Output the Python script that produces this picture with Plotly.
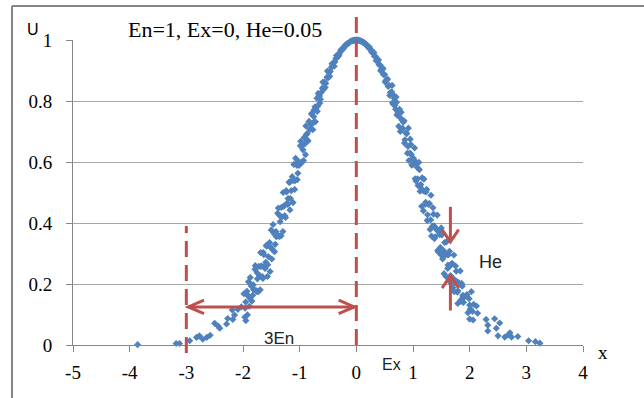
import plotly.graph_objects as go

# ---------------- data ----------------
left_tail_x = [-3.86, -3.18, -3.12, -2.94, -2.82, -2.77, -2.71, -2.64, -2.58, -2.50,
               -2.44, -2.41, -2.29, -2.27, -2.19, -2.18, -2.15, -2.09, -2.03, -1.95]
left_tail_u = [0.001, 0.005, 0.005, 0.014, 0.025, 0.030, 0.019, 0.025, 0.032, 0.071,
               0.062, 0.055, 0.069, 0.087, 0.115, 0.084, 0.098, 0.117, 0.125, 0.080]

left_mid_x = [-0.620, -0.645, -0.657, -0.683, -0.696, -0.722, -0.744, -0.757, -0.784, -0.798,
              -0.823, -0.836, -0.862, -0.884, -0.897, -0.921, -0.943, -0.958, -0.982, -1.004,
              -1.018, -1.043, -1.057, -1.082, -1.103, -1.117, -1.142, -1.163, -1.178, -1.204,
              -1.221, -1.237, -1.263, -1.281, -1.296, -1.322, -1.345, -1.358, -1.376, -1.404,
              -1.418, -1.443, -1.462, -1.477, -1.503, -1.522, -1.538, -1.563, -1.584, -1.597,
              -1.623, -1.642, -1.658, -1.684, -1.697, -1.721, -1.746, -1.757, -1.783, -1.804,
              -1.818, -1.843, -1.862, -1.877, -1.903, -1.922, -1.938, -1.963, -1.984]
left_mid_u = [0.828, 0.793, 0.817, 0.783, 0.809, 0.732, 0.771, 0.730, 0.760, 0.722,
              0.707, 0.733, 0.671, 0.689, 0.624, 0.680, 0.640, 0.599, 0.668, 0.592,
              0.601, 0.542, 0.593, 0.539, 0.592, 0.467, 0.539, 0.480, 0.533, 0.480,
              0.465, 0.506, 0.424, 0.455, 0.372, 0.451, 0.404, 0.356, 0.449, 0.357,
              0.372, 0.306, 0.370, 0.312, 0.377, 0.241, 0.324, 0.263, 0.324, 0.271,
              0.258, 0.303, 0.224, 0.258, 0.181, 0.258, 0.217, 0.176, 0.260, 0.182,
              0.197, 0.144, 0.199, 0.153, 0.207, 0.099, 0.167, 0.121, 0.168]

left_mid2_x = [-0.634, -0.651, -0.672, -0.689, -0.712, -0.729, -0.752, -0.768, -0.791, -0.812,
               -0.829, -0.852, -0.868, -0.891, -0.909, -0.932, -0.948, -0.971, -0.988, -1.011,
               -1.032, -1.049, -1.072, -1.088, -1.109, -1.131, -1.148, -1.172, -1.188, -1.209,
               -1.232, -1.249, -1.268, -1.291, -1.312, -1.328, -1.351, -1.368, -1.389, -1.412,
               -1.431, -1.448, -1.469, -1.492, -1.508, -1.531, -1.552, -1.569, -1.588, -1.611,
               -1.632, -1.649, -1.671, -1.688, -1.709, -1.732, -1.748, -1.771, -1.789, -1.812,
               -1.828, -1.851, -1.872, -1.889, -1.908, -1.931, -1.952, -1.968]
left_mid2_u = [0.806, 0.816, 0.825, 0.766, 0.777, 0.781, 0.749, 0.706, 0.757, 0.708,
               0.731, 0.669, 0.693, 0.718, 0.659, 0.605, 0.654, 0.599, 0.653, 0.589,
               0.563, 0.589, 0.612, 0.510, 0.540, 0.552, 0.506, 0.443, 0.534, 0.461,
               0.502, 0.418, 0.457, 0.500, 0.420, 0.358, 0.424, 0.358, 0.432, 0.355,
               0.330, 0.364, 0.395, 0.282, 0.320, 0.336, 0.290, 0.225, 0.327, 0.251,
               0.296, 0.218, 0.259, 0.303, 0.228, 0.175, 0.236, 0.179, 0.248, 0.181,
               0.163, 0.193, 0.221, 0.127, 0.161, 0.176, 0.141, 0.091]

left_core_x = [-0.60, -0.58, -0.56, -0.54, -0.52, -0.50, -0.48, -0.46, -0.44, -0.42,
               -0.40, -0.38, -0.36, -0.34, -0.32, -0.30, -0.28, -0.26, -0.24, -0.22,
               -0.20, -0.18, -0.16, -0.14, -0.12, -0.10, -0.08, -0.06, -0.04, -0.02]
left_core_u = [0.842, 0.838, 0.861, 0.858, 0.878, 0.876, 0.895, 0.897, 0.911, 0.913,
               0.926, 0.928, 0.939, 0.942, 0.952, 0.955, 0.963, 0.966, 0.973, 0.976,
               0.981, 0.984, 0.988, 0.990, 0.993, 0.995, 0.997, 0.998, 0.999, 1.000]

left_core2_x = [-0.59, -0.55, -0.51, -0.47, -0.43, -0.39, -0.35, -0.31, -0.27, -0.23,
                -0.19, -0.15, -0.11, -0.07, -0.03]
left_core2_u = [0.862, 0.844, 0.898, 0.881, 0.922, 0.914, 0.949, 0.948, 0.968, 0.971,
                0.984, 0.988, 0.994, 0.9975, 0.9995]

right_core_x = [0.00, 0.02, 0.04, 0.06, 0.08, 0.10, 0.12, 0.14, 0.16, 0.18,
                0.20, 0.22, 0.24, 0.26, 0.28, 0.30, 0.32, 0.34, 0.36, 0.38,
                0.40, 0.42, 0.44, 0.46, 0.48, 0.50, 0.52, 0.54, 0.56, 0.58, 0.60]
right_core_u = [1.000, 0.9998, 0.999, 0.998, 0.996, 0.995, 0.992, 0.991, 0.986, 0.985,
                0.978, 0.977, 0.970, 0.968, 0.959, 0.958, 0.947, 0.946, 0.934, 0.932,
                0.919, 0.918, 0.903, 0.903, 0.886, 0.887, 0.867, 0.869, 0.848, 0.851, 0.828]

right_core2_x = [0.03, 0.07, 0.11, 0.15, 0.19, 0.23, 0.27, 0.31, 0.35, 0.39,
                 0.43, 0.47, 0.51, 0.55, 0.59]
right_core2_u = [0.9995, 0.9975, 0.994, 0.990, 0.980, 0.977, 0.961, 0.959, 0.932, 0.935,
                 0.899, 0.907, 0.862, 0.872, 0.818]

right_mid_x = [0.623, 0.638, 0.664, 0.681, 0.702, 0.717, 0.743, 0.762, 0.777, 0.804,
               0.819, 0.842, 0.858, 0.883, 0.902, 0.918, 0.944, 0.961, 0.978, 1.003,
               1.022, 1.038, 1.063, 1.079, 1.102, 1.124, 1.137, 1.161, 1.183, 1.198,
               1.223, 1.242, 1.257, 1.284, 1.302, 1.317, 1.343, 1.362, 1.378, 1.403,
               1.424, 1.437, 1.461, 1.483, 1.498, 1.523, 1.541, 1.558, 1.582, 1.603,
               1.617, 1.644, 1.662, 1.678, 1.703, 1.721, 1.737, 1.764, 1.782, 1.798,
               1.823, 1.841, 1.857, 1.884]
right_mid_u = [0.830, 0.794, 0.818, 0.786, 0.813, 0.754, 0.763, 0.773, 0.700, 0.738,
               0.710, 0.735, 0.673, 0.695, 0.629, 0.711, 0.629, 0.657, 0.590, 0.613,
               0.604, 0.545, 0.596, 0.545, 0.599, 0.504, 0.526, 0.548, 0.440, 0.504,
               0.468, 0.510, 0.427, 0.462, 0.379, 0.491, 0.389, 0.429, 0.349, 0.383,
               0.376, 0.310, 0.374, 0.320, 0.384, 0.282, 0.309, 0.336, 0.225, 0.296,
               0.262, 0.307, 0.228, 0.265, 0.188, 0.295, 0.204, 0.242, 0.173, 0.204,
               0.200, 0.147, 0.202, 0.159]

right_mid2_x = [0.631, 0.652, 0.668, 0.692, 0.709, 0.733, 0.748, 0.771, 0.792, 0.809,
                0.828, 0.851, 0.873, 0.889, 0.912, 0.928, 0.951, 0.969, 0.992, 1.012,
                1.028, 1.052, 1.071, 1.088, 1.113, 1.128, 1.152, 1.169, 1.193, 1.212,
                1.228, 1.251, 1.272, 1.289, 1.311, 1.327, 1.352, 1.369, 1.392, 1.412,
                1.428, 1.449, 1.472, 1.491, 1.509, 1.532, 1.548, 1.571, 1.589, 1.612,
                1.629, 1.652, 1.668, 1.691, 1.712, 1.728, 1.751, 1.769, 1.792, 1.808,
                1.832, 1.848, 1.869, 1.891]
right_mid2_u = [0.851, 0.789, 0.809, 0.773, 0.796, 0.760, 0.717, 0.746, 0.763, 0.708,
                0.731, 0.662, 0.695, 0.693, 0.651, 0.605, 0.675, 0.625, 0.592, 0.609,
                0.646, 0.538, 0.583, 0.523, 0.575, 0.518, 0.455, 0.508, 0.544, 0.461,
                0.502, 0.408, 0.461, 0.464, 0.410, 0.357, 0.450, 0.391, 0.355, 0.381,
                0.426, 0.305, 0.362, 0.296, 0.361, 0.299, 0.234, 0.295, 0.338, 0.251,
                0.296, 0.207, 0.262, 0.268, 0.218, 0.175, 0.259, 0.209, 0.178, 0.204,
                0.243, 0.143, 0.193, 0.140]

right_tail_x = [1.88, 1.91, 1.95, 1.99, 2.03, 1.79, 2.00, 2.07, 2.12, 1.97,
                2.01, 2.05, 2.14, 2.00, 2.06, 2.29, 2.44, 2.32, 2.53, 2.32,
                2.47, 2.50, 2.62, 2.68, 2.71, 2.74, 2.85, 3.04, 3.16, 3.24]
right_tail_u = [0.163, 0.158, 0.165, 0.152, 0.175, 0.136, 0.131, 0.133, 0.128, 0.106,
                0.118, 0.110, 0.104, 0.085, 0.082, 0.084, 0.086, 0.065, 0.072, 0.046,
                0.055, 0.030, 0.026, 0.033, 0.040, 0.026, 0.028, 0.014, 0.011, 0.006]

x_ticks = [-5, -4, -3, -2, -1, 0, 1, 2, 3, 4]
x_tick_text = ["-5", "-4", "-3", "-2", "-1", "0", "1", "2", "3", "4"]
y_ticks = [0, 0.2, 0.4, 0.6, 0.8, 1]
y_tick_text = ["0", "0.2", "0.4", "0.6", "0.8", "1"]

# guide marks: Ex, Ex-3En, arrow level, He marker position
ex_value = 0
en3_left = -3
arrow_level = 0.125
he_x = 1.66
he_down = [0.453, 0.338]   # start, tip
he_up = [0.113, 0.227]     # start, tip

title_text = "En=1, Ex=0, He=0.05"

# ---------------- figure ----------------
xs = (left_tail_x + left_mid_x + left_mid2_x + left_core_x + left_core2_x
      + right_core_x + right_core2_x + right_mid_x + right_mid2_x + right_tail_x)
us = (left_tail_u + left_mid_u + left_mid2_u + left_core_u + left_core2_u
      + right_core_u + right_core2_u + right_mid_u + right_mid2_u + right_tail_u)

W, H = 644, 398
L, R, T, B = 73, 61, 40, 53
PW, PH = W - L - R, H - T - B
XU = 9.0 / PW      # x units per pixel
YU = 1.0 / PH      # y (paper) units per pixel


def pxx(px):
    return (px - L) / PW


def pxy(py):
    return (H - B - py) / PH


red = "#C0504D"
grey = "#868686"

fig = go.Figure()
fig.add_trace(go.Scatter(
    x=xs, y=us, mode="markers",
    marker=dict(symbol="diamond", size=5.5, color="#4F81BD", line=dict(width=0)),
    hoverinfo="skip", showlegend=False, cliponaxis=False))

shapes = []
dash = "16px,8px"
shapes.append(dict(type="line", xref="x", yref="paper", x0=ex_value, x1=ex_value,
                   y0=0, y1=1.08, line=dict(color=red, width=3, dash=dash)))
shapes.append(dict(type="line", xref="x", yref="paper", x0=en3_left, x1=en3_left,
                   y0=-0.026, y1=0.39, line=dict(color=red, width=3, dash=dash)))
lt = en3_left + 2 * XU
rt = ex_value - 2 * XU
shapes.append(dict(type="line", xref="x", yref="paper", x0=lt, x1=rt,
                   y0=arrow_level, y1=arrow_level, line=dict(color=red, width=3)))
hx, hy = 15.7 * XU, 6.7 * YU
shapes.append(dict(type="path", xref="x", yref="paper",
                   path=f"M{lt + hx},{arrow_level + hy} L{lt},{arrow_level} L{lt + hx},{arrow_level - hy}",
                   line=dict(color=red, width=3)))
shapes.append(dict(type="path", xref="x", yref="paper",
                   path=f"M{rt - hx},{arrow_level + hy} L{rt},{arrow_level} L{rt - hx},{arrow_level - hy}",
                   line=dict(color=red, width=3)))
vx, vy = 8.3 * XU, 12.3 * YU
shapes.append(dict(type="line", xref="x", yref="paper", x0=he_x, x1=he_x,
                   y0=he_down[0], y1=he_down[1], line=dict(color=red, width=3)))
shapes.append(dict(type="path", xref="x", yref="paper",
                   path=f"M{he_x - vx},{he_down[1] + vy} L{he_x},{he_down[1]} L{he_x + vx},{he_down[1] + vy}",
                   line=dict(color=red, width=3)))
shapes.append(dict(type="line", xref="x", yref="paper", x0=he_x, x1=he_x,
                   y0=he_up[0], y1=he_up[1], line=dict(color=red, width=3)))
shapes.append(dict(type="path", xref="x", yref="paper",
                   path=f"M{he_x - vx},{he_up[1] - vy} L{he_x},{he_up[1]} L{he_x + vx},{he_up[1] - vy}",
                   line=dict(color=red, width=3)))
# outer frame (top and left)
shapes.append(dict(type="line", xref="paper", yref="paper", x0=pxx(12), x1=pxx(646),
                   y0=pxy(6), y1=pxy(6), line=dict(color=grey, width=2)))
shapes.append(dict(type="line", xref="paper", yref="paper", x0=pxx(12), x1=pxx(12),
                   y0=pxy(6), y1=pxy(400), line=dict(color=grey, width=2)))

serif = "Liberation Serif"
sans = "Liberation Sans"
annotations = [
    dict(text="U", x=pxx(33), y=pxy(29), font=dict(family=sans, size=16, color="black")),
    dict(text=title_text, x=pxx(225), y=pxy(29), font=dict(family=serif, size=22, color="black")),
    dict(text="x", x=pxx(603), y=pxy(353), font=dict(family=serif, size=19, color="black")),
    dict(text="Ex", x=pxx(391), y=pxy(364), font=dict(family=sans, size=16, color="#222222")),
    dict(text="3En", x=pxx(279), y=pxy(338), font=dict(family=sans, size=17, color="#222222")),
    dict(text="He", x=pxx(490), y=pxy(262), font=dict(family=sans, size=18, color="#222222")),
]
for a in annotations:
    a.update(xref="paper", yref="paper", showarrow=False, xanchor="center", yanchor="middle")

fig.update_layout(
    width=W, height=H, autosize=False,
    margin=dict(l=L, r=R, t=T, b=B, pad=0),
    paper_bgcolor="white", plot_bgcolor="white",
    shapes=shapes, annotations=annotations, showlegend=False,
    xaxis=dict(range=[-5, 4], tickmode="array", tickvals=x_ticks, ticktext=x_tick_text,
               showgrid=False, zeroline=False, showline=True, linecolor=grey, linewidth=1,
               ticks="outside", ticklen=6, tickcolor=grey,
               tickfont=dict(family=serif, size=19, color="black"),
               ticklabelstandoff=4, fixedrange=True),
    yaxis=dict(range=[0, 1], tickmode="array", tickvals=y_ticks, ticktext=y_tick_text,
               showgrid=True, gridcolor="#A6A6A6", gridwidth=1, zeroline=False,
               showline=True, linecolor=grey, linewidth=1,
               ticks="outside", ticklen=6, tickcolor=grey,
               tickfont=dict(family=serif, size=19, color="black"),
               ticklabelstandoff=10, fixedrange=True),
)

fig.write_html("out.html")
